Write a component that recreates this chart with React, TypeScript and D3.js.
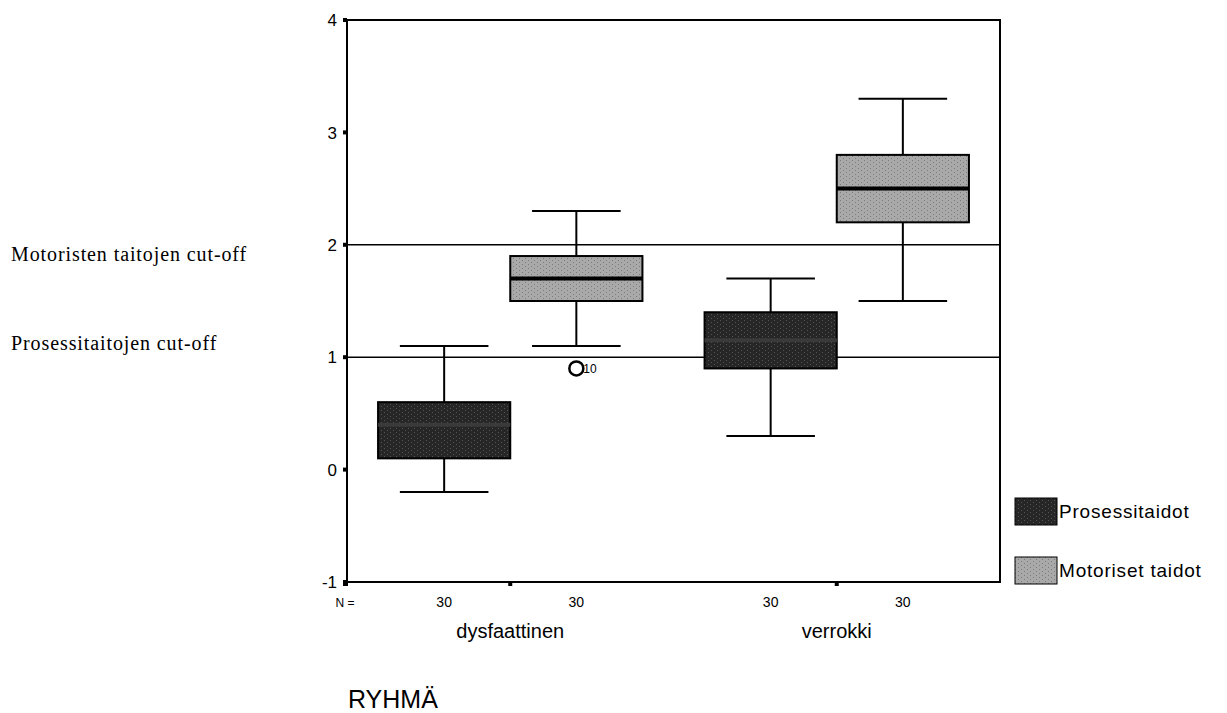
import React, { useEffect, useRef } from 'react';
import * as d3 from 'd3';

// groups and series
const groups = ['dysfaattinen', 'verrokki'];
const seriesNames = ['Prosessitaidot', 'Motoriset taidot'];
const seriesColors = ['#262626', '#a9a9a9'];

// box stats per group: [lowerWhisker, q1, median, q3, upperWhisker]
const prosessiStats = [
  [-0.2, 0.1, 0.4, 0.6, 1.1],
  [0.3, 0.9, 1.15, 1.4, 1.7],
];
const motorisetStats = [
  [1.1, 1.5, 1.7, 1.9, 2.3],
  [1.5, 2.2, 2.5, 2.8, 3.3],
];
const counts = [
  [30, 30],
  [30, 30],
];
// outliers: group, series, value, case label
const outliers = [{ group: 'dysfaattinen', series: 1, value: 0.9, label: '10' }];

const yTicks = [-1, 0, 1, 2, 3, 4];
const cutoffs = [
  { value: 2, label: 'Motoristen taitojen cut-off', dy: 16 },
  { value: 1, label: 'Prosessitaitojen cut-off', dy: -7 },
];

const App = () => {
  const svgRef = useRef<SVGSVGElement>(null);

  useEffect(() => {
    const svg = d3.select(svgRef.current);
    svg.selectAll('*').remove();

    const left = 347;
    const right = 1000;
    const top = 20;
    const bottom = 582;
    const sans = 'Liberation Sans, Arial, Helvetica, sans-serif';
    const serif = 'Liberation Serif, Times New Roman, serif';

    const y = d3.scaleLinear().domain([-1, 4]).range([bottom, top]);
    const x0 = d3.scaleBand().domain(groups).range([left, right]).paddingInner(0).paddingOuter(0);
    const x1 = d3
      .scaleBand()
      .domain(seriesNames)
      .range([0, x0.bandwidth()])
      .paddingOuter(0.235)
      .paddingInner(0);

    const allStats = [prosessiStats, motorisetStats];

    // patterns to mimic the scanned texture
    const defs = svg.append('defs');
    const makePattern = (id: string, base: string, dot: string) => {
      const p = defs
        .append('pattern')
        .attr('id', id)
        .attr('width', 6)
        .attr('height', 4)
        .attr('patternUnits', 'userSpaceOnUse');
      p.append('rect').attr('width', 6).attr('height', 4).attr('fill', base);
      p.append('rect').attr('x', 0).attr('y', 0).attr('width', 1).attr('height', 1).attr('fill', dot);
      p.append('rect').attr('x', 3).attr('y', 2).attr('width', 1).attr('height', 1).attr('fill', dot);
    };
    makePattern('pat0', seriesColors[0], '#555');
    makePattern('pat1', seriesColors[1], '#7a7a7a');

    // frame
    svg
      .append('rect')
      .attr('x', left)
      .attr('y', top)
      .attr('width', right - left)
      .attr('height', bottom - top)
      .attr('fill', 'none')
      .attr('stroke', '#000')
      .attr('stroke-width', 2);

    // y ticks as small squares + labels
    const yAxis = svg.append('g');
    yTicks.forEach(t => {
      yAxis
        .append('rect')
        .attr('x', left - 4)
        .attr('y', y(t) - 2)
        .attr('width', 4)
        .attr('height', 4)
        .attr('fill', '#000');
      yAxis
        .append('text')
        .attr('x', left - 10)
        .attr('y', y(t))
        .attr('dy', '0.36em')
        .attr('text-anchor', 'end')
        .style('font-family', sans)
        .style('font-size', '17px')
        .text(t);
    });

    // x tick squares at group centers
    groups.forEach(g => {
      svg
        .append('rect')
        .attr('x', x0(g)! + x0.bandwidth() / 2 - 2)
        .attr('y', bottom)
        .attr('width', 4)
        .attr('height', 4)
        .attr('fill', '#000');
    });
    svg
      .append('rect')
      .attr('x', left - 4)
      .attr('y', bottom - 1)
      .attr('width', 5)
      .attr('height', 5)
      .attr('fill', '#000');

    // cut-off lines
    cutoffs.forEach(c => {
      svg
        .append('line')
        .attr('x1', left)
        .attr('x2', right)
        .attr('y1', y(c.value))
        .attr('y2', y(c.value))
        .attr('stroke', '#000')
        .attr('stroke-width', 1.5);
      svg
        .append('text')
        .attr('x', 11)
        .attr('y', y(c.value) + c.dy)
        .style('font-family', serif)
        .style('font-size', '20px')
        .style('letter-spacing', '0.9px')
        .text(c.label);
    });

    // boxes
    groups.forEach((g, gi) => {
      seriesNames.forEach((s, si) => {
        const [lo, q1, med, q3, hi] = allStats[si][gi];
        const bx = x0(g)! + x1(s)!;
        const bw = x1.bandwidth();
        const cx = bx + bw / 2;
        const capW = bw * 0.67;
        const box = svg.append('g');
        box
          .append('line')
          .attr('x1', cx)
          .attr('x2', cx)
          .attr('y1', y(hi))
          .attr('y2', y(lo))
          .attr('stroke', '#000')
          .attr('stroke-width', 2);
        [lo, hi].forEach(v => {
          box
            .append('line')
            .attr('x1', cx - capW / 2)
            .attr('x2', cx + capW / 2)
            .attr('y1', y(v))
            .attr('y2', y(v))
            .attr('stroke', '#000')
            .attr('stroke-width', 2);
        });
        box
          .append('rect')
          .attr('x', bx)
          .attr('y', y(q3))
          .attr('width', bw)
          .attr('height', y(q1) - y(q3))
          .attr('fill', `url(#pat${si})`)
          .attr('stroke', '#000')
          .attr('stroke-width', 2);
        box
          .append('line')
          .attr('x1', bx)
          .attr('x2', bx + bw)
          .attr('y1', y(med))
          .attr('y2', y(med))
          .attr('stroke', si === 0 ? '#3a3a3a' : '#000')
          .attr('stroke-width', 4);

        // N labels
        svg
          .append('text')
          .attr('x', cx)
          .attr('y', 607)
          .attr('text-anchor', 'middle')
          .style('font-family', sans)
          .style('font-size', '14px')
          .text(counts[gi][si]);
      });
    });

    // outliers
    outliers.forEach(o => {
      const cx = x0(o.group)! + x1(seriesNames[o.series])! + x1.bandwidth() / 2;
      svg
        .append('circle')
        .attr('cx', cx)
        .attr('cy', y(o.value))
        .attr('r', 7)
        .attr('fill', 'none')
        .attr('stroke', '#000')
        .attr('stroke-width', 2.5);
      svg
        .append('text')
        .attr('x', cx + 7)
        .attr('y', y(o.value) + 5)
        .style('font-family', sans)
        .style('font-size', '12px')
        .text(o.label);
    });

    // N =
    svg
      .append('text')
      .attr('x', 345)
      .attr('y', 607)
      .attr('text-anchor', 'middle')
      .style('font-family', sans)
      .style('font-size', '12px')
      .text('N =');

    // group labels
    groups.forEach(g => {
      svg
        .append('text')
        .attr('x', x0(g)! + x0.bandwidth() / 2)
        .attr('y', 638)
        .attr('text-anchor', 'middle')
        .style('font-family', sans)
        .style('font-size', '20px')
        .text(g);
    });

    // axis title
    svg
      .append('text')
      .attr('x', 348)
      .attr('y', 708)
      .style('font-family', sans)
      .style('font-size', '25px')
      .text('RYHMÄ');

    // legend
    const legend = svg
      .selectAll('.legend')
      .data(seriesNames)
      .enter()
      .append('g')
      .attr('transform', (_, i) => `translate(1015, ${498 + i * 59})`);
    legend
      .append('rect')
      .attr('width', 42)
      .attr('height', 27)
      .attr('fill', (_, i) => `url(#pat${i})`)
      .attr('stroke', '#000')
      .attr('stroke-width', 1);
    legend
      .append('text')
      .attr('x', 44)
      .attr('y', 20)
      .style('font-family', sans)
      .style('font-size', '19px')
      .style('letter-spacing', '0.8px')
      .text(d => d);
  }, []);

  return (
    <svg
      ref={svgRef}
      width={1227}
      height={713}
      style={{ position: 'absolute', left: 0, top: 0, background: '#fff' }}
    />
  );
};

export default App;
